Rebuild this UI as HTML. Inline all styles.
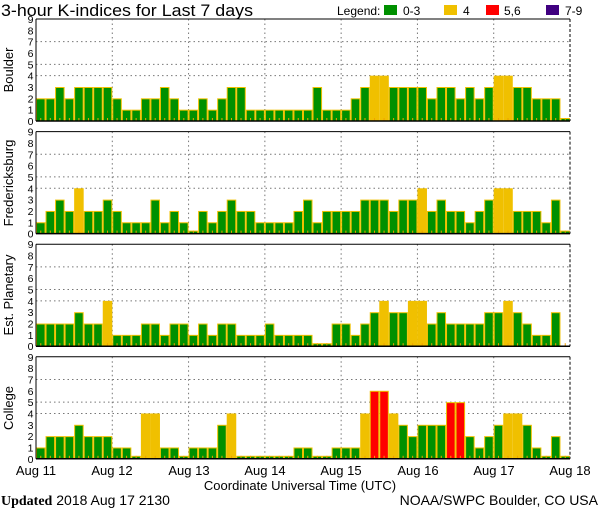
<!DOCTYPE html>
<html><head><meta charset="utf-8"><style>
html,body{margin:0;padding:0;background:#fff;width:600px;height:510px;overflow:hidden}
svg{display:block}
text{font-family:"Liberation Sans",sans-serif;fill:#000}
</style></head><body>
<svg id="s" width="600" height="510" viewBox="0 0 600 510" xmlns="http://www.w3.org/2000/svg">
<text x="1" y="16" font-size="17" textLength="252" lengthAdjust="spacingAndGlyphs">3-hour K-indices for Last 7 days</text>
<text x="337" y="15" font-size="12">Legend:</text>
<rect x="384" y="5" width="13" height="10" fill="#009000"/><text x="403" y="15" font-size="12">0-3</text>
<rect x="444" y="5" width="13" height="10" fill="#f0c000"/><text x="463" y="15" font-size="12">4</text>
<rect x="486" y="5" width="13" height="10" fill="#ff0000"/><text x="504" y="15" font-size="12">5,6</text>
<rect x="546" y="5" width="13" height="10" fill="#400080"/><text x="565" y="15" font-size="12">7-9</text>
<g id="panels"></g>
<text x="13" y="70" font-size="13" transform="rotate(-90 13 70)" text-anchor="middle">Boulder</text>
<text x="13" y="183" font-size="13" transform="rotate(-90 13 183)" text-anchor="middle">Fredericksburg</text>
<text x="13" y="295" font-size="13" transform="rotate(-90 13 295)" text-anchor="middle">Est. Planetary</text>
<text x="13" y="408" font-size="13" transform="rotate(-90 13 408)" text-anchor="middle">College</text>
<g font-size="13" text-anchor="middle">
<text x="36" y="475">Aug 11</text><text x="112" y="475">Aug 12</text><text x="189" y="475">Aug 13</text><text x="265" y="475">Aug 14</text>
<text x="341" y="475">Aug 15</text><text x="418" y="475">Aug 16</text><text x="494" y="475">Aug 17</text><text x="570" y="475">Aug 18</text>
<text x="300" y="490">Coordinate Universal Time (UTC)</text>
</g>
<text x="1" y="505" font-size="14"><tspan font-family="Liberation Serif" font-weight="bold">Updated</tspan> 2018 Aug 17 2130</text>
<text x="598" y="505" font-size="14" text-anchor="end">NOAA/SWPC Boulder, CO USA</text>
</svg>
<script>
(function(){
var data=[
[2,2,3,2,3,3,3,3, 2,1,1,2,2,3,2,1, 1,2,1,2,3,3,1,1, 1,1,1,1,1,3,1,1, 1,2,3,4,4,3,3,3, 3,2,3,3,2,3,2,3, 4,4,3,3,2,2,2,0],
[1,2,3,2,4,2,2,3, 2,1,1,1,3,1,2,1, 0,2,1,2,3,2,2,1, 1,1,1,2,3,1,2,2, 2,2,3,3,3,2,3,3, 4,2,3,2,2,1,2,3, 4,4,2,2,2,1,3,0],
[2,2,2,2,3,2,2,4, 1,1,1,2,2,1,2,2, 1,2,1,2,2,1,1,1, 2,1,1,1,1,0,0,2, 2,1,2,3,4,3,3,4, 4,2,3,2,2,2,2,3, 3,4,3,2,1,1,3,null],
[1,2,2,2,3,2,2,2, 1,1,0,4,4,1,1,0, 1,1,1,3,4,0,0,0, 0,0,0,1,1,0,0,1, 1,1,4,6,6,4,3,2, 3,3,3,5,5,2,1,2, 3,4,4,3,1,0,2,0]];
var ns="http://www.w3.org/2000/svg",g=document.getElementById("panels");
function el(t,a){var e=document.createElementNS(ns,t);for(var k in a)e.setAttribute(k,a[k]);g.appendChild(e);return e;}
var L=36,R=570,W=(R-L)/56;
for(var p=0;p<4;p++){
 var pt=19+p*112.6,bot=pt+102,u=102/9;
 [4,5,7].forEach(function(v){var y=bot-v*u;el("line",{x1:L,x2:R,y1:y,y2:y,stroke:"#777","stroke-dasharray":"1.5,3"});});
 for(var d=1;d<7;d++){var x=L+d*W*8;el("line",{x1:x,x2:x,y1:pt,y2:bot,stroke:"#777","stroke-dasharray":"1.5,3"});}
 for(var i=0;i<56;i++){var v=data[p][i];var x=L+i*W;
  if(v!==null){var c=v<=3?"#009000":v==4?"#f0c000":v<=6?"#ff0000":"#400080";
   var h=Math.max(v*u,3);
   el("rect",{x:x+0.5,y:bot-h+0.5,width:W-1,height:h-0.5,fill:c,stroke:"#f0c000","stroke-width":1});}
  el("rect",{x:x+W/2-0.5,y:bot-3,width:1,height:3,fill:"#f0a000"});}
 el("line",{x1:L,x2:R,y1:pt,y2:pt,stroke:"#000","stroke-width":1});
 el("line",{x1:L,x2:L,y1:pt,y2:bot,stroke:"#000","stroke-width":1});
 el("line",{x1:R,x2:R,y1:pt,y2:bot,stroke:"#000","stroke-width":1,"stroke-dasharray":"3,2"});
 el("line",{x1:L,x2:R,y1:bot,y2:bot,stroke:"#000","stroke-width":1.5});
 for(var k=0;k<=9;k++){var t=el("text",{x:33.5,y:bot-k*u+4,"font-size":10.5,"text-anchor":"end"});t.textContent=k;}
}
})();
</script>
</body></html>
